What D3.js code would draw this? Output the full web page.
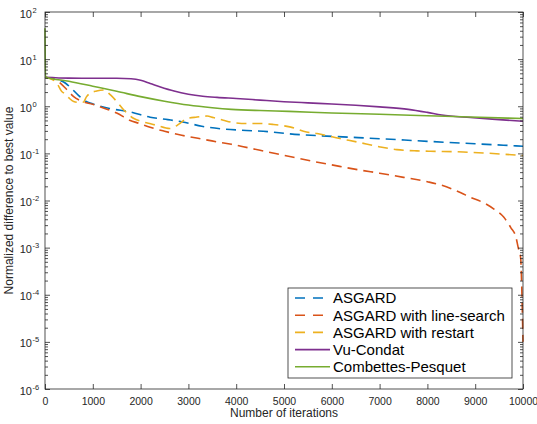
<!DOCTYPE html>
<html>
<head>
<meta charset="utf-8">
<script src="https://cdn.jsdelivr.net/npm/d3@7"></script>
<style>
  body { margin: 0; background: #fff; }
  svg { display: block; font-family: "Liberation Sans", Arial, Helvetica, sans-serif; }
</style>
</head>
<body>
<div id="chart"></div>
<script>
// iterations / values
const asgardIters = [0, 200, 430, 570, 700, 850, 1000, 1350, 1800, 2200, 2570, 2880, 3280, 3720, 4120, 4660, 5100, 6000, 7000, 8000, 9000, 10000];
const asgardValues = [4.13, 3.75, 3.08, 2.3, 1.7, 1.28, 1.12, 0.9, 0.75, 0.584, 0.52, 0.465, 0.376, 0.33, 0.31, 0.29, 0.26, 0.23, 0.205, 0.18, 0.16, 0.142];

const lineSearchIters = [0, 250, 450, 600, 750, 1000, 1250, 1500, 1770, 1980, 2200, 2500, 2860, 3200, 3600, 3900, 4500, 5000, 5600, 6000, 6600, 7000, 7500, 8000, 8300, 8500, 8700, 8900, 9200, 9400, 9600, 9750, 9850, 9900, 9950, 9970, 9985, 10000];
const lineSearchValues = [4.13, 3.5, 2.3, 1.6, 1.3, 1.1, 0.9, 0.72, 0.505, 0.43, 0.358, 0.295, 0.242, 0.209, 0.175, 0.156, 0.116, 0.091, 0.068, 0.057, 0.044, 0.038, 0.031, 0.025, 0.021, 0.0178, 0.0146, 0.0117, 0.0087, 0.0065, 0.0044, 0.0026, 0.0017, 0.001, 0.00062, 0.0002, 0.00005, 0.00001];

const restartIters = [0, 100, 250, 350, 400, 500, 600, 700, 800, 870, 930, 1080, 1230, 1370, 1500, 1650, 1720, 1850, 2000, 2190, 2330, 2610, 2820, 2970, 3180, 3390, 3520, 3730, 3940, 4220, 4500, 4780, 5120, 5470, 5690, 6170, 6520, 7010, 7360, 7780, 8060, 8750, 9170, 10000];
const restartValues = [4.13, 3.9, 3.08, 2.05, 1.89, 1.5, 1.26, 1.21, 1.22, 1.6, 1.86, 2.11, 2.22, 1.74, 1.26, 0.83, 0.71, 0.556, 0.48, 0.43, 0.395, 0.336, 0.43, 0.55, 0.59, 0.62, 0.575, 0.505, 0.45, 0.43, 0.43, 0.41, 0.365, 0.285, 0.263, 0.206, 0.175, 0.137, 0.12, 0.113, 0.111, 0.107, 0.102, 0.09];

const vuIters = [0, 500, 1000, 1500, 1800, 2000, 2200, 2400, 2700, 3000, 3300, 3600, 4000, 4500, 5000, 5500, 6000, 6500, 7000, 7600, 8000, 8300, 8900, 9500, 10000];
const vuValues = [4.13, 3.95, 3.93, 3.92, 3.82, 3.55, 3.05, 2.6, 2.1, 1.8, 1.63, 1.54, 1.46, 1.35, 1.25, 1.18, 1.12, 1.05, 0.97, 0.86, 0.74, 0.65, 0.575, 0.52, 0.48];

const cpIters = [0, 10, 500, 1000, 1500, 2000, 2500, 3000, 3500, 3900, 4500, 5100, 6000, 7000, 8000, 8900, 10000];
const cpValues = [45, 4.2, 3.39, 2.66, 2.08, 1.6, 1.28, 1.06, 0.93, 0.86, 0.81, 0.78, 0.72, 0.676, 0.63, 0.59, 0.55];

const seriesNames = ["ASGARD", "ASGARD with line-search", "ASGARD with restart", "Vu-Condat", "Combettes-Pesquet"];
const seriesColors = ["#0072BD", "#D95319", "#EDB120", "#7E2F8E", "#77AC30"];
const seriesDashed = [true, true, true, false, false];

const xTicks = [0, 1000, 2000, 3000, 4000, 5000, 6000, 7000, 8000, 9000, 10000];
const yExponents = [-6, -5, -4, -3, -2, -1, 0, 1, 2];

const series = [
  [asgardIters, asgardValues],
  [lineSearchIters, lineSearchValues],
  [restartIters, restartValues],
  [vuIters, vuValues],
  [cpIters, cpValues],
].map((s, i) => ({
  name: seriesNames[i],
  color: seriesColors[i],
  dashed: seriesDashed[i],
  points: s[0].map((it, j) => ({ it: it, v: s[1][j] })),
}));

const W = 537, H = 424;
const plotL = 45, plotR = 523, plotT = 12, plotB = 389;
const axisColor = "#262626";

const svg = d3.select("#chart").append("svg").attr("width", W).attr("height", H);

const x = d3.scaleLinear().domain([0, 10000]).range([plotL, plotR]);
const y = d3.scaleLog().domain([1e-6, 1e2]).range([plotB, plotT]);

// clip a bit wider than the box so lines sitting on the edges stay visible
svg.append("defs").append("clipPath").attr("id", "plot-clip")
  .append("rect").attr("x", plotL - 2).attr("y", plotT).attr("width", plotR - plotL + 3).attr("height", plotB - plotT);

// curves
const line = d3.line()
  .x((d) => x(d.it))
  .y((d) => y(d.v))
  .curve(d3.curveMonotoneX);

svg.append("g").attr("clip-path", "url(#plot-clip)")
  .selectAll("path")
  .data(series)
  .enter()
  .append("path")
  .attr("d", (d) => line(d.points))
  .attr("fill", "none")
  .attr("stroke", (d) => d.color)
  .attr("stroke-width", 1.6)
  .attr("stroke-dasharray", (d) => (d.dashed ? "10,6" : null));

// minor log ticks
const yMinor = [];
yExponents.slice(0, -1).forEach((e) => {
  for (let k = 2; k <= 9; k++) yMinor.push(k * Math.pow(10, e));
});
const yMajor = yExponents.map((e) => Math.pow(10, e));

function styleAxis(g) {
  g.select(".domain").remove();
  g.selectAll("line").attr("stroke", axisColor).attr("stroke-width", 0.8);
}

// inward ticks on all four sides (box on)
svg.append("g").attr("transform", `translate(${plotL},0)`)
  .call(d3.axisLeft(y).tickValues(yMajor).tickSize(-5).tickFormat(""))
  .call(styleAxis);
svg.append("g").attr("transform", `translate(${plotL},0)`)
  .call(d3.axisLeft(y).tickValues(yMinor).tickSize(-3).tickFormat(""))
  .call(styleAxis);
svg.append("g").attr("transform", `translate(${plotR},0)`)
  .call(d3.axisRight(y).tickValues(yMajor).tickSize(-5).tickFormat(""))
  .call(styleAxis);
svg.append("g").attr("transform", `translate(${plotR},0)`)
  .call(d3.axisRight(y).tickValues(yMinor).tickSize(-3).tickFormat(""))
  .call(styleAxis);

const xAxis = svg.append("g").attr("transform", `translate(0,${plotB})`)
  .call(d3.axisBottom(x).tickValues(xTicks).tickSize(-5).tickPadding(9).tickFormat(d3.format("d")))
  .call(styleAxis);
xAxis.selectAll("text").attr("font-size", 10.5).attr("fill", axisColor)
  .attr("font-family", "Liberation Sans, Arial, sans-serif");
svg.append("g").attr("transform", `translate(0,${plotT})`)
  .call(d3.axisTop(x).tickValues(xTicks).tickSize(-5).tickFormat(""))
  .call(styleAxis);

// box
svg.append("rect")
  .attr("x", plotL).attr("y", plotT)
  .attr("width", plotR - plotL).attr("height", plotB - plotT)
  .attr("fill", "none").attr("stroke", axisColor).attr("stroke-width", 0.8);

// y tick labels 10^e
const yLab = svg.append("g").attr("fill", axisColor);
yExponents.forEach((e) => {
  const ty = y(Math.pow(10, e));
  yLab.append("text").attr("x", 32).attr("y", ty + 5.5)
    .attr("text-anchor", "end").attr("font-size", 11).text("10");
  yLab.append("text").attr("x", 32.5).attr("y", ty + 0.5)
    .attr("text-anchor", "start").attr("font-size", 7.5).text(e);
});

// axis titles
svg.append("text")
  .attr("x", (plotL + plotR) / 2).attr("y", 417)
  .attr("text-anchor", "middle").attr("font-size", 12).attr("fill", axisColor)
  .text("Number of iterations");
svg.append("text")
  .attr("transform", `translate(13,${(plotT + plotB) / 2}) rotate(-90)`)
  .attr("text-anchor", "middle").attr("font-size", 12).attr("fill", axisColor)
  .text("Normalized difference to best value");

// legend
const legend = svg.append("g");
legend.append("rect")
  .attr("x", 288).attr("y", 288).attr("width", 224).attr("height", 90)
  .attr("fill", "#fff").attr("stroke", axisColor).attr("stroke-width", 0.8);
series.forEach((s, i) => {
  const ly = 298 + i * 17.2;
  legend.append("line")
    .attr("x1", 295).attr("x2", 330).attr("y1", ly).attr("y2", ly)
    .attr("stroke", s.color).attr("stroke-width", 1.6)
    .attr("stroke-dasharray", s.dashed ? "10,8" : null);
  legend.append("text")
    .attr("x", 333).attr("y", ly).attr("dy", "0.36em")
    .attr("font-size", 15).attr("fill", "#000")
    .text(s.name);
});
</script>
</body>
</html>
